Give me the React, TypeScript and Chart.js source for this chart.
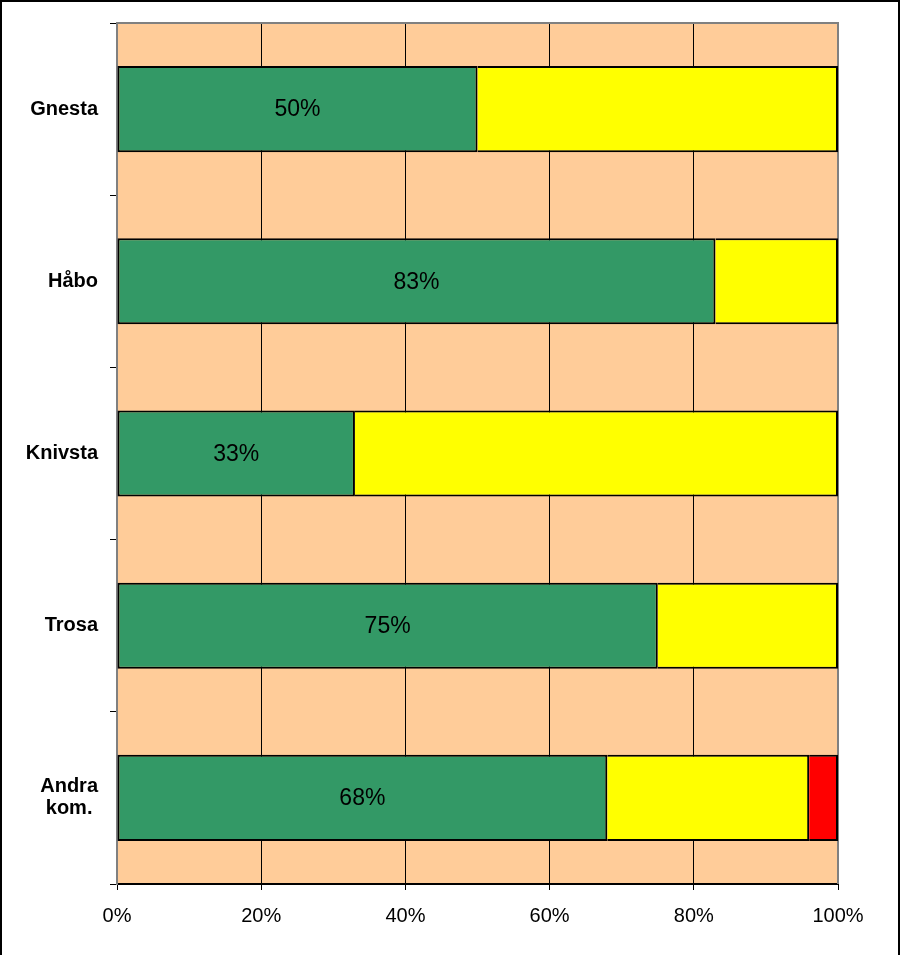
import React, { useEffect, useRef } from "react";
import { Chart, registerables } from "chart.js";

Chart.register(...registerables);

const categories: (string | string[])[] = ["Gnesta", "Håbo", "Knivsta", "Trosa", ["Andra", "kom. "]];
const greenValues = [50, 83, 33, 75, 68];
const yellowValues = [50, 17, 67, 25, 28];
const redValues = [0, 0, 0, 0, 4];
const xTickValues = [0, 20, 40, 60, 80, 100];

const FONT = "'Liberation Sans', Arial, sans-serif";

const framePlugin = {
  id: "frame",
  beforeDraw(chart: any) {
    const { ctx, chartArea, width, height } = chart;
    ctx.save();
    ctx.fillStyle = "#ffffff";
    ctx.fillRect(0, 0, width, height);
    ctx.fillStyle = "#FFCC99";
    ctx.fillRect(chartArea.left, chartArea.top, chartArea.right - chartArea.left, chartArea.bottom - chartArea.top);
    ctx.restore();
  },
  beforeDatasetsDraw(chart: any) {
    const { ctx, chartArea } = chart;
    ctx.save();
    ctx.strokeStyle = "#808080";
    ctx.lineWidth = 2;
    ctx.beginPath();
    ctx.moveTo(chartArea.left, chartArea.bottom);
    ctx.lineTo(chartArea.left, chartArea.top);
    ctx.lineTo(chartArea.right, chartArea.top);
    ctx.lineTo(chartArea.right, chartArea.bottom);
    ctx.stroke();
    ctx.restore();
  },
  afterDraw(chart: any) {
    const { ctx, width, height } = chart;
    ctx.save();
    ctx.fillStyle = "#000000";
    ctx.fillRect(0, 0, 2, height);
    ctx.fillRect(0, 0, width, 2);
    ctx.fillRect(width - 2, 0, 2, height);
    ctx.restore();
  },
};

const labelPlugin = {
  id: "greenLabels",
  afterDatasetsDraw(chart: any) {
    const { ctx } = chart;
    const meta = chart.getDatasetMeta(0);
    ctx.save();
    ctx.fillStyle = "#000000";
    ctx.font = `23px ${FONT}`;
    ctx.textAlign = "center";
    ctx.textBaseline = "middle";
    meta.data.forEach((bar: any, i: number) => {
      const p = bar.getProps(["x", "y", "base"], true);
      const cx = (p.x + p.base) / 2;
      ctx.fillText(`${greenValues[i]}%`, cx, p.y + 1);
    });
    ctx.restore();
  },
};

export default function App() {
  const ref = useRef<HTMLCanvasElement>(null);

  useEffect(() => {
    if (!ref.current) return;
    const chart = new Chart(ref.current, {
      type: "bar",
      data: {
        labels: categories,
        datasets: [
          {
            data: greenValues,
            backgroundColor: "#339966",
            borderColor: "#000000",
            borderWidth: 2,
            borderSkipped: false,
          },
          {
            data: yellowValues,
            backgroundColor: "#FFFF00",
            borderColor: "#000000",
            borderWidth: 2,
            borderSkipped: "start",
          },
          {
            data: redValues,
            backgroundColor: "#FF0000",
            borderColor: "#000000",
            borderWidth: 2,
            borderSkipped: "start",
          },
        ],
      },
      options: {
        indexAxis: "y",
        responsive: false,
        animation: false,
        datasets: { bar: { barPercentage: 0.5, categoryPercentage: 1 } },
        layout: { padding: { left: 0, right: 62, top: 23, bottom: 0 } },
        plugins: { legend: { display: false }, tooltip: { enabled: false } },
        scales: {
          x: {
            stacked: true,
            min: 0,
            max: 100,
            afterBuildTicks: (scale: any) => {
              scale.ticks = xTickValues.map((v) => ({ value: v }));
            },
            afterFit: (scale: any) => {
              scale.height = 71;
              scale.paddingLeft = 0;
              scale.paddingRight = 0;
            },
            ticks: {
              color: "#000000",
              font: { family: FONT, size: 20 },
              padding: 14,
              maxRotation: 0,
              callback: (v: any) => `${v}%`,
            },
            grid: {
              color: "#000000",
              lineWidth: 1,
              tickLength: 6,
              tickColor: "#000000",
            },
            border: { color: "#000000", width: 2 },
          },
          y: {
            stacked: true,
            afterFit: (scale: any) => {
              scale.width = 117;
              scale.paddingTop = 0;
              scale.paddingBottom = 0;
            },
            ticks: {
              color: "#000000",
              font: { family: FONT, size: 20, weight: "bold", lineHeight: 1.1 },
              padding: 12,
            },
            grid: {
              offset: true,
              drawOnChartArea: false,
              tickLength: 7,
              tickColor: "#000000",
              lineWidth: 1,
            },
            border: { color: "#808080", width: 2 },
          },
        },
      },
      plugins: [framePlugin, labelPlugin],
    });
    return () => chart.destroy();
  }, []);

  return (
    <div style={{ position: "absolute", left: 0, top: 0, width: 900, height: 955 }}>
      <canvas ref={ref} width={900} height={955} style={{ display: "block", width: 900, height: 955 }} />
    </div>
  );
}
